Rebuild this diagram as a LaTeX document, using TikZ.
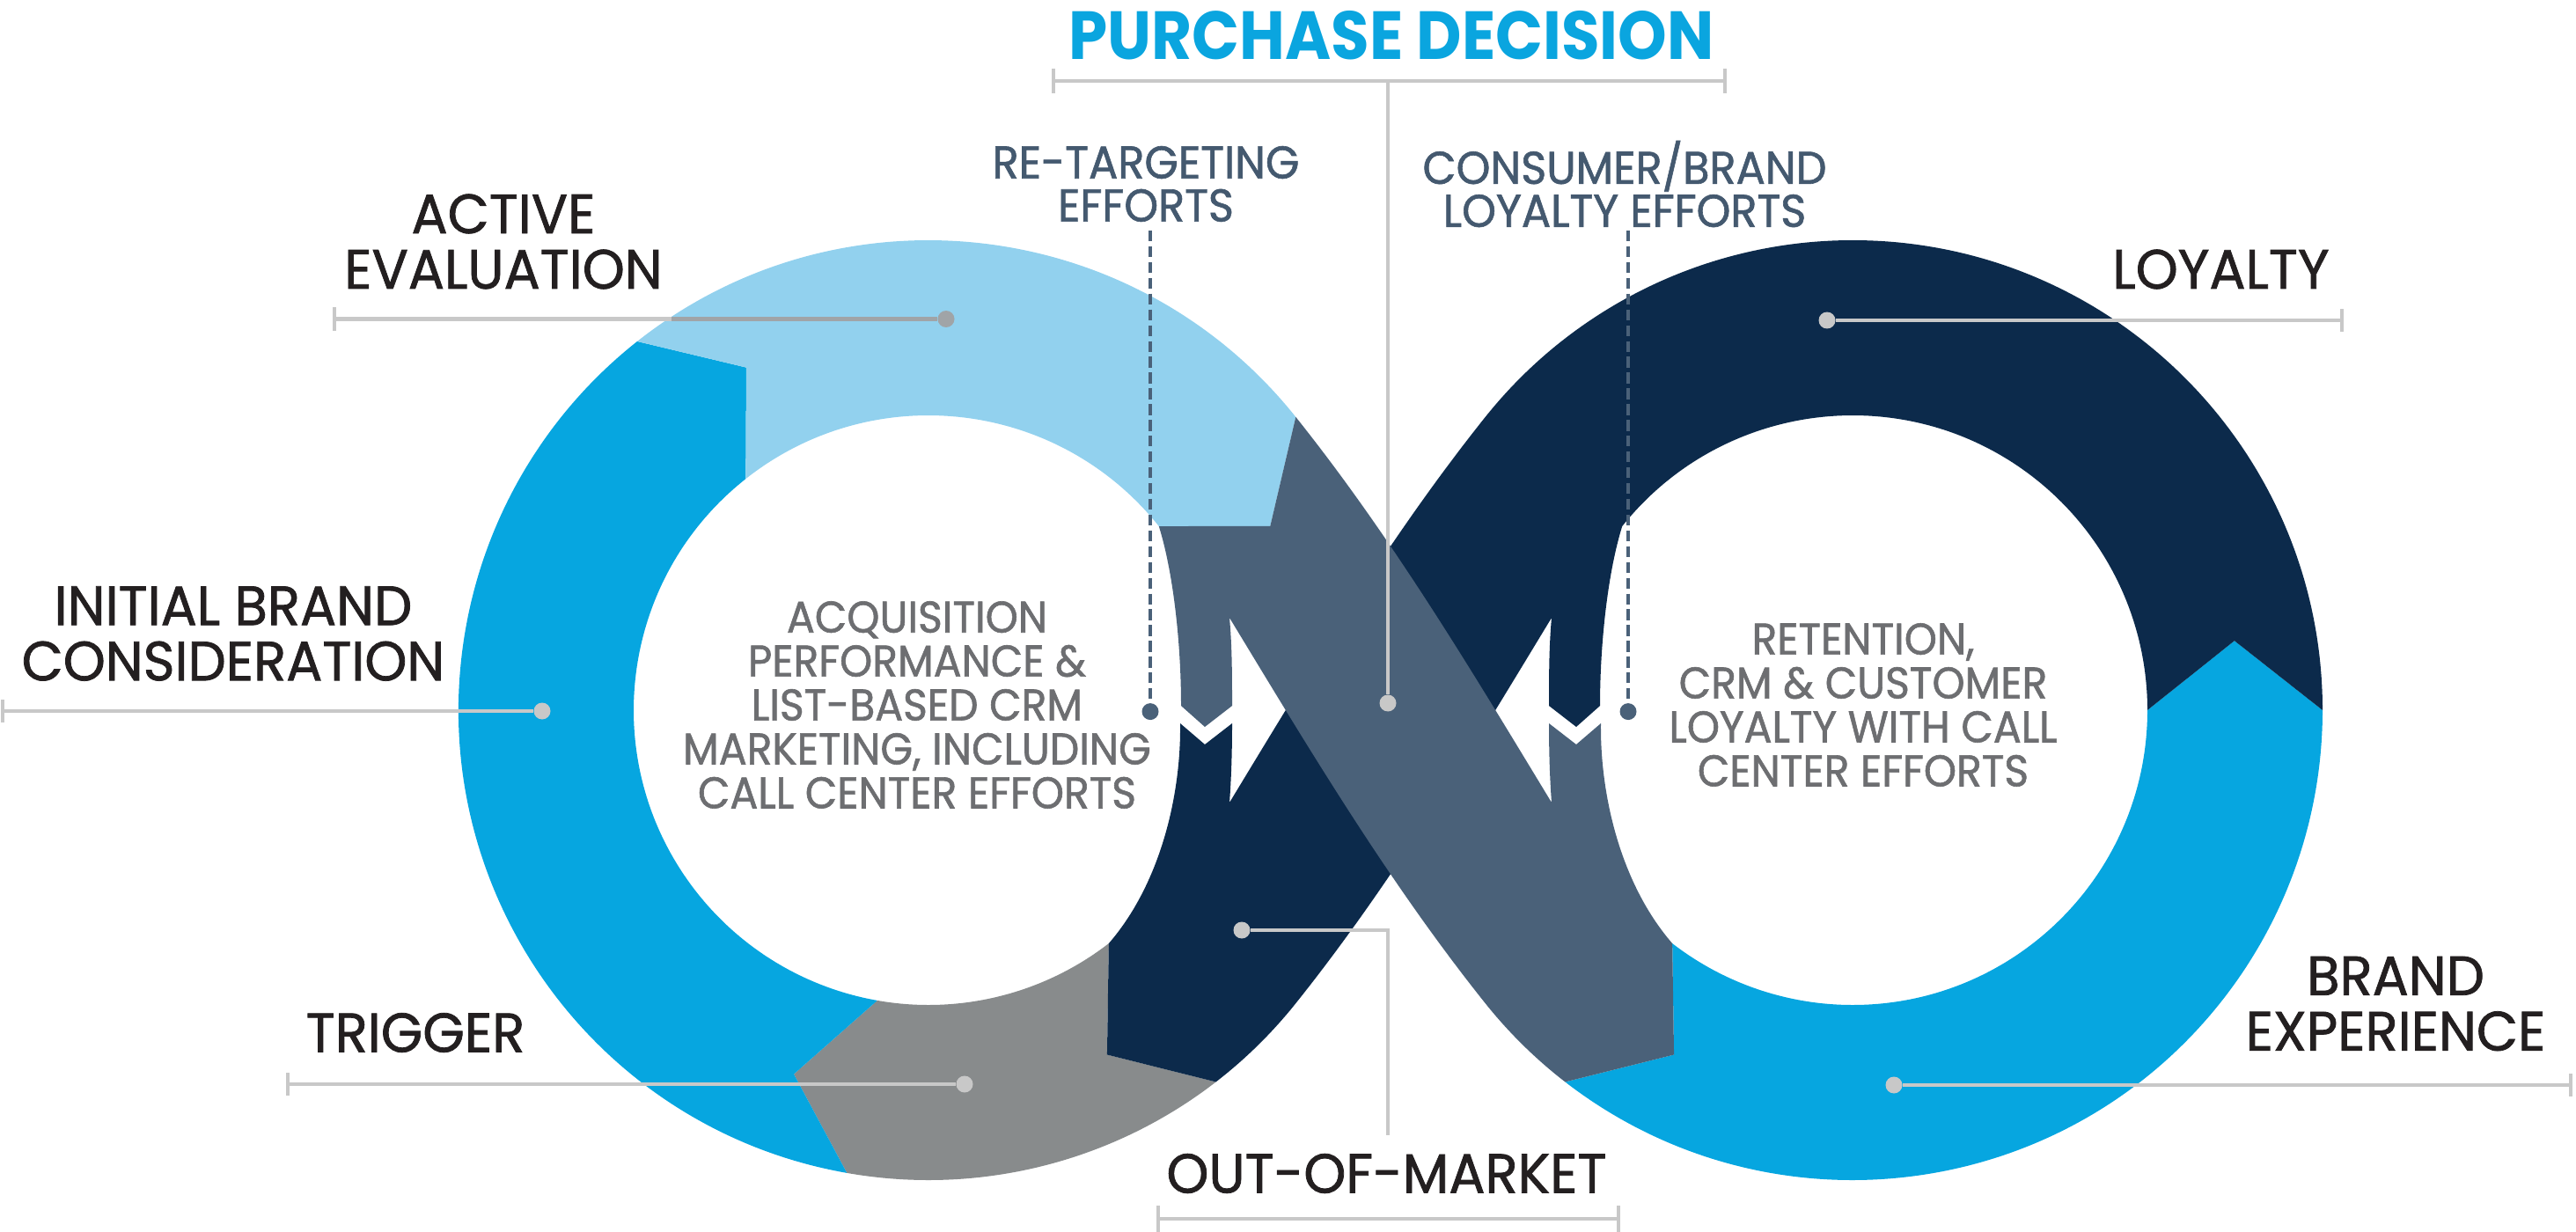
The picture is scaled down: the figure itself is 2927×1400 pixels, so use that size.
\documentclass[tikz,border=0pt]{standalone}
\usepackage{fontspec}
\setmainfont{Poppins}
\newfontfamily\labfont[FakeStretch=0.97,FakeBold=1.2]{Poppins}
\newfontfamily\midfont[FakeStretch=0.94,FakeBold=1.2]{Poppins}
\newfontfamily\efffont[FakeStretch=0.95,FakeBold=1.2]{Poppins}
\newfontfamily\titlefont[FakeStretch=0.915]{Poppins}
\usetikzlibrary{calc}
\definecolor{cnavy}{HTML}{0C2A4B}
\definecolor{cslate}{HTML}{4A6179}
\definecolor{cbb}{HTML}{06A6E0}
\definecolor{clb}{HTML}{92D1EE}
\definecolor{cgray}{HTML}{888B8C}
\definecolor{ctext}{HTML}{231F20}
\definecolor{cmid}{HTML}{6D6E71}
\definecolor{cstext}{HTML}{44596F}
\definecolor{lgray}{HTML}{C8C8C8}
\definecolor{dgray}{HTML}{A0A4A7}
\definecolor{ctitle}{HTML}{0AA5DF}
\begin{document}
\begin{tikzpicture}[x=0.01cm,y=-0.01cm,
  lab/.style={font=\labfont\fontsize{17.9pt}{17.9pt}\selectfont, text=ctext, align=center, inner sep=0pt},
  midtext/.style={font=\midfont\fontsize{14.3pt}{14.2pt}\selectfont, text=cmid, align=center, inner sep=0pt},
  efftext/.style={font=\efffont\fontsize{14.8pt}{13.9pt}\selectfont, text=cstext, align=center, inner sep=0pt},
  titletext/.style={font=\titlefont\bfseries\fontsize{22pt}{22pt}\selectfont, text=ctitle, inner sep=0pt},
  conn/.style={draw=lgray, line width=1.15pt},
  darkconn/.style={draw=dgray, line width=1.15pt},
  dot/.style={circle, fill=lgray, minimum size=5.4pt, inner sep=0pt},
  darkdot/.style={circle, fill=dgray, minimum size=5.4pt, inner sep=0pt},
  sdot/.style={circle, fill=cslate, minimum size=5.4pt, inner sep=0pt},
  dashconn/.style={draw=cslate, line width=1pt, dash pattern=on 3.5pt off 1.6pt}]
\useasboundingbox (0,0) rectangle (2927,1400);
\coordinate (CL) at (1055,807);
\coordinate (CR) at (2105,807);
% ---------- left loop sections
\fill[cgray] ($(CL)+(52.3:534)$) arc[start angle=52.3,end angle=100,radius=534]
  -- ($(CL)+(110.3:441)$) -- ($(CL)+(100:335)$) arc[start angle=100,end angle=52.3,radius=335]
  -- ($(CL)+(62.6:441)$) -- cycle;
\fill[cbb] ($(CL)+(100:534)$) arc[start angle=100,end angle=231.7,radius=534]
  -- ($(CL)+(242:441)$) -- ($(CL)+(231.7:335)$) arc[start angle=231.7,end angle=100,radius=335]
  -- ($(CL)+(110.3:441)$) -- cycle;
\fill[clb] ($(CL)+(231.7:534)$) arc[start angle=231.7,end angle=321.4,radius=534]
  -- ($(CL)+(331.7:441)$) -- ($(CL)+(321.4:335)$) arc[start angle=321.4,end angle=231.7,radius=335]
  -- ($(CL)+(242:441)$) -- cycle;
% ---------- right loop bright blue
\fill[cbb] ($(CR)+(127.7:534)$) arc[start angle=127.7,end angle=0,radius=534]
  -- ($(CR)+(-10.3:441)$) -- ($(CR)+(0:335)$) arc[start angle=0,end angle=127.7,radius=335]
  -- ($(CR)+(117.4:441)$) -- cycle;
% ---------- navy (out-of-market + loyalty)
\fill[cnavy] ($(CL)+(52.3:534)$) arc[start angle=52.3,end angle=38.6,radius=534]
  .. controls (1581.5,1003.5) and (1672,852) .. (1763,702)
  .. controls (1760,735) and (1760,770) .. (1760,802)
  -- (1791,826) -- (1818,802)
  .. controls (1818,730) and (1827,650) .. ($(CR)+(218.6:335)$)
  arc[start angle=218.6,end angle=360,radius=335]
  -- ($(CR)+(-10.3:441)$) -- ($(CR)+(0:534)$)
  arc[start angle=360,end angle=218.6,radius=534]
  .. controls (1578.5,610.5) and (1488,762) .. (1397,912)
  .. controls (1399,885) and (1400,855) .. (1400,822)
  -- (1369,846) -- (1341,822)
  .. controls (1342,905) and (1318,1005) .. ($(CL)+(52.3:335)$)
  -- ($(CL)+(62.6:441)$) -- cycle;
% ---------- slate (purchase decision)
\fill[cslate] ($(CL)+(-38.6:534)$)
  .. controls (1581.5,610.5) and (1672,762) .. (1763,912)
  .. controls (1761,885) and (1760,855) .. (1760,822)
  -- (1791,846) -- (1819,822)
  .. controls (1818,905) and (1842,1005) .. ($(CR)+(127.7:335)$)
  -- ($(CR)+(117.4:441)$) -- ($(CR)+(127.7:534)$)
  arc[start angle=127.7,end angle=141.4,radius=534]
  .. controls (1578.5,1003.5) and (1488,852) .. (1397,702)
  .. controls (1400,735) and (1400,770) .. (1400,802)
  -- (1369,826) -- (1342,802)
  .. controls (1342,730) and (1333,650) .. ($(CL)+(-38.6:335)$)
  -- ($(CL)+(-28.3:441)$) -- cycle;
% ---------- dots
\node[dot] (dPD) at (1577,799) {};
\node[darkdot] (dAE) at (1075,362.5) {};
\node[dot] (dIBC) at (616,808) {};
\node[dot] (dTR) at (1096,1232) {};
\node[dot] (dOOM) at (1411,1057) {};
\node[dot] (dLOY) at (2076,364) {};
\node[dot] (dBE) at (2152,1233) {};
\node[sdot] (dRT) at (1307,808.6) {};
\node[sdot] (dCB) at (1850,808.6) {};
% ---------- coordinates for connectors
\coordinate (pdL) at (1197,92); \coordinate (pdR) at (1960,92); \coordinate (pdM) at (1577,92);
\coordinate (pdL1) at (1197,78); \coordinate (pdL2) at (1197,106);
\coordinate (pdR1) at (1960,78); \coordinate (pdR2) at (1960,106);
\coordinate (omL) at (1316,1385); \coordinate (omR) at (1839,1385);
\coordinate (omL1) at (1316,1370); \coordinate (omL2) at (1316,1400);
\coordinate (omR1) at (1839,1370); \coordinate (omR2) at (1839,1400);
\coordinate (omC) at (1577,1057); \coordinate (omB) at (1577,1290);
\coordinate (aeT) at (380,362.5); \coordinate (aeT1) at (380,349); \coordinate (aeT2) at (380,376);
\coordinate (aeM) at (763,362.5);
\coordinate (ibT) at (3,808); \coordinate (ibT1) at (3,795); \coordinate (ibT2) at (3,821);
\coordinate (trT) at (327,1232); \coordinate (trT1) at (327,1219); \coordinate (trT2) at (327,1245);
\coordinate (loT) at (2661,364); \coordinate (loT1) at (2661,351); \coordinate (loT2) at (2661,377);
\coordinate (beT) at (2921,1233); \coordinate (beT1) at (2921,1220); \coordinate (beT2) at (2921,1246);
\coordinate (rtS) at (1307,262); \coordinate (cbS) at (1850,262);
% ---------- connectors
\draw[conn] (pdL) -- (pdR);
\draw[conn] (pdL1) -- (pdL2);
\draw[conn] (pdR1) -- (pdR2);
\draw[conn] (pdM) -- (dPD);
\draw[conn] (omL) -- (omR);
\draw[conn] (omL1) -- (omL2);
\draw[conn] (omR1) -- (omR2);
\draw[conn] (dOOM) -- (omC) -- (omB);
\draw[conn] (aeT1) -- (aeT2);
\draw[conn] (aeT) -- (aeM);
\draw[darkconn] (aeM) -- (dAE);
\draw[conn] (ibT1) -- (ibT2);
\draw[conn] (ibT) -- (dIBC);
\draw[conn] (trT1) -- (trT2);
\draw[conn] (trT) -- (dTR);
\draw[conn] (loT1) -- (loT2);
\draw[conn] (dLOY) -- (loT);
\draw[conn] (beT1) -- (beT2);
\draw[conn] (dBE) -- (beT);
\draw[dashconn] (rtS) -- (dRT);
\draw[dashconn] (cbS) -- (dCB);
% ---------- texts
\node[titletext] (tPD) at (1581,40) {PURCHASE DECISION};
\node[efftext] (tRT) at (1302,209) {RE-TARGETING\\EFFORTS};
\node[efftext] (tCB) at (1846,209) {CONSUMER/BRAND\\LOYALTY EFFORTS};
\node[lab] (tAE) at (572,274.5) {ACTIVE\\EVALUATION};
\node[lab] (tIBC) at (265,720) {INITIAL BRAND\\CONSIDERATION};
\node[lab] (tTR) at (472,1173.5) {TRIGGER};
\node[lab] (tOOM) at (1575.5,1333.5) {OUT-OF-MARKET};
\node[lab] (tLOY) at (2523.5,306) {LOYALTY};
\node[lab] (tBE) at (2722,1140.5) {BRAND\\EXPERIENCE};
\node[midtext] (tACQ) at (1042,801) {ACQUISITION\\PERFORMANCE \&\\LIST-BASED CRM\\MARKETING, INCLUDING\\CALL CENTER EFFORTS};
\node[midtext] (tRET) at (2117,801) {RETENTION,\\CRM \& CUSTOMER\\LOYALTY WITH CALL\\CENTER EFFORTS};
\end{tikzpicture}
\end{document}
